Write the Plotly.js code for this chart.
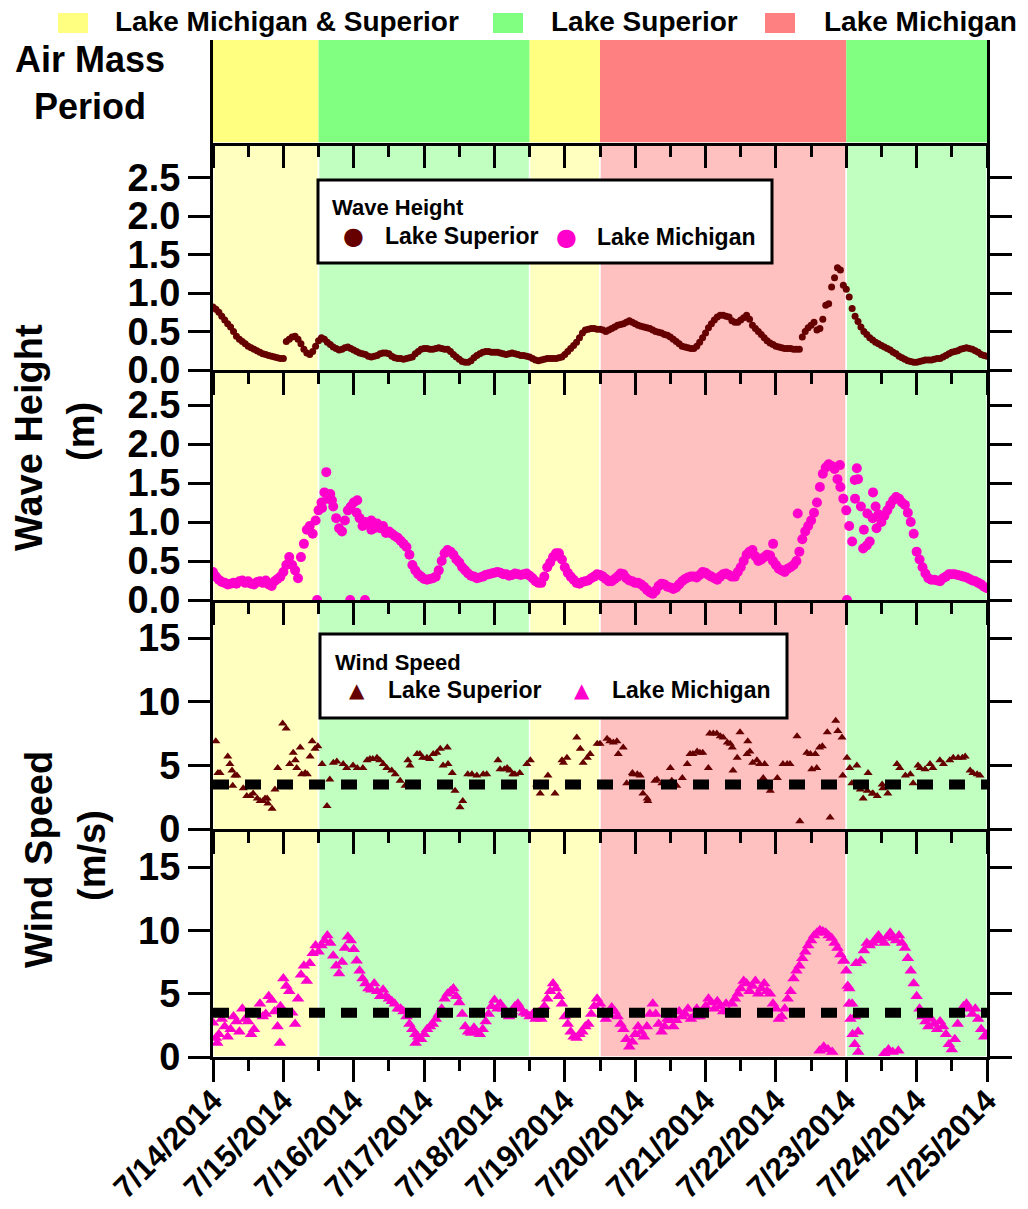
<!DOCTYPE html>
<html><head><meta charset="utf-8">
<script src="https://cdn.plot.ly/plotly-3.0.1.min.js"></script>
<style>html,body{margin:0;padding:0;background:#fff}#chart{width:1028px;height:1209px}</style>
</head><body><div id="chart"></div>
<script>
// ---------------- DATA ----------------
const startDate = '2014-07-14';
const endDate = '2014-07-25';
const stepHours = 2; // even readings at 0,2,4... h ; odd readings at 1,3,5... h

// Air mass periods
const periodStarts = ['2014-07-14 00:00', '2014-07-15 12:00', '2014-07-18 12:00', '2014-07-19 12:00', '2014-07-23 00:00'];
const periodEnds   = ['2014-07-15 12:00', '2014-07-18 12:00', '2014-07-19 12:00', '2014-07-23 00:00', '2014-07-25 00:00'];
const periodTypes  = ['both', 'sup', 'both', 'mich', 'sup'];
const periodLegendTypes  = ['both', 'sup', 'mich'];
const periodLegendLabels = ['Lake Michigan & Superior', 'Lake Superior', 'Lake Michigan'];

// Wave height (m), Lake Superior, at 0,2,4,... h from 7/14 00:00
const supWave = [
 0.82,0.75,0.65,0.56,0.44,0.37,0.31,0.27,0.23,0.20,0.18,0.16,
 0.15,0.40,0.44,0.34,0.22,0.24,0.38,0.40,0.33,0.28,0.27,0.30,
 0.26,0.22,0.20,0.17,0.19,0.22,0.21,0.16,0.15,0.15,0.17,0.24,
 0.28,0.27,0.28,0.28,0.27,0.20,0.14,0.10,0.12,0.19,0.23,0.24,
 0.23,0.22,0.20,0.22,0.20,0.19,0.17,0.13,0.13,0.15,0.15,0.16,
 0.20,0.28,0.36,0.48,0.53,0.54,0.53,0.50,0.54,0.58,0.60,0.64,
 0.60,0.57,0.55,0.52,0.49,0.46,0.43,0.37,0.31,0.29,0.28,0.36,
 0.48,0.60,0.69,0.71,0.69,0.62,0.65,0.71,0.58,0.50,0.42,0.35,
 0.31,0.29,0.28,0.27,0.27,0.50,0.58,0.52,0.66,0.86,1.20,1.30,
 1.05,0.80,0.63,0.50,0.42,0.36,0.32,0.28,0.23,0.18,0.14,0.11,
 0.10,0.12,0.13,0.14,0.15,0.19,0.23,0.25,0.28,0.28,0.25,0.20,
 0.18];
// Wave height (m), Lake Superior, at 1,3,5,... h
const supWaveOdd = [
 0.79,0.70,0.60,0.50,0.40,0.34,0.29,0.25,0.21,0.19,0.17,0.15,
 0.37,0.43,0.40,0.27,0.20,0.31,0.42,0.36,0.30,0.26,0.29,0.28,
 0.24,0.21,0.18,0.18,0.21,0.22,0.18,0.15,0.14,0.16,0.21,0.27,
 0.28,0.27,0.29,0.27,0.24,0.17,0.11,0.10,0.16,0.21,0.24,0.23,
 0.23,0.21,0.21,0.21,0.19,0.18,0.15,0.12,0.14,0.15,0.15,0.17,
 0.24,0.32,0.42,0.52,0.54,0.53,0.52,0.52,0.56,0.59,0.62,0.62,
 0.58,0.56,0.54,0.50,0.48,0.45,0.40,0.34,0.30,0.28,0.31,0.42,
 0.55,0.65,0.71,0.70,0.64,0.62,0.68,0.66,0.54,0.46,0.38,0.33,
 0.30,0.28,0.28,0.27,0.43,0.55,0.62,0.54,0.84,1.08,1.33,1.10,
 0.95,0.70,0.56,0.46,0.39,0.34,0.30,0.26,0.21,0.16,0.12,0.10,
 0.11,0.13,0.13,0.15,0.17,0.21,0.24,0.27,0.29,0.27,0.23,0.19];

// Wave height (m), Lake Michigan, at 0,2,4,... h
const michWave = [
 0.36,0.26,0.22,0.21,0.21,0.25,0.24,0.20,0.24,0.25,0.18,0.27,
 0.36,0.55,0.38,0.55,0.90,0.85,1.15,1.38,1.36,1.05,0.88,1.15,
 1.25,1.05,1.00,0.90,0.98,0.95,0.88,0.82,0.76,0.68,0.45,0.33,
 0.27,0.27,0.30,0.50,0.64,0.58,0.48,0.38,0.31,0.28,0.30,0.33,
 0.35,0.35,0.33,0.32,0.33,0.33,0.31,0.24,0.22,0.42,0.55,0.60,
 0.42,0.30,0.22,0.23,0.25,0.30,0.32,0.27,0.24,0.30,0.33,0.25,
 0.22,0.20,0.13,0.08,0.18,0.20,0.16,0.16,0.24,0.29,0.30,0.32,
 0.35,0.30,0.26,0.33,0.32,0.30,0.42,0.58,0.64,0.50,0.55,0.57,
 0.45,0.38,0.40,0.45,0.62,0.88,1.02,1.25,1.62,1.74,1.68,1.45,
 1.15,0.75,1.55,0.90,0.75,1.20,1.00,1.15,1.28,1.30,1.22,1.00,
 0.62,0.42,0.28,0.26,0.24,0.30,0.33,0.32,0.30,0.27,0.24,0.20,
 0.15];
// Wave height (m), Lake Michigan, at 1,3,5,... h
const michWaveOdd = [
 0.30,0.23,0.20,0.22,0.24,0.22,0.21,0.23,0.22,0.20,0.24,0.30,
 0.45,0.45,0.28,0.72,0.95,1.02,1.25,1.30,1.20,0.92,1.02,1.20,
 1.12,0.95,0.98,0.92,0.92,0.86,0.85,0.80,0.72,0.58,0.38,0.30,
 0.26,0.28,0.38,0.60,0.62,0.52,0.42,0.34,0.30,0.29,0.32,0.34,
 0.36,0.33,0.31,0.34,0.32,0.34,0.28,0.22,0.30,0.48,0.60,0.52,
 0.35,0.26,0.21,0.24,0.28,0.33,0.30,0.24,0.27,0.34,0.28,0.24,
 0.22,0.17,0.10,0.12,0.21,0.17,0.14,0.20,0.27,0.30,0.29,0.36,
 0.32,0.28,0.30,0.34,0.30,0.36,0.50,0.62,0.56,0.52,0.58,0.50,
 0.40,0.36,0.42,0.50,0.78,0.95,1.12,1.45,1.70,1.72,1.55,1.30,
 0.95,1.30,1.20,0.70,1.05,1.10,1.08,1.22,1.32,1.25,1.12,0.85,
 0.52,0.34,0.26,0.25,0.28,0.33,0.33,0.31,0.29,0.25,0.22,0.17];
// scattered Lake Michigan wave readings (days after 7/14 00:00)
const michWaveExtraDays = [1.48,1.95,2.16,9.01,1.61,7.96,8.31,8.91,9.15,9.38,1.55,1.69,2.05,2.25,9.12,9.24,9.30,9.43];
const michWaveExtraVals = [0.00,0.00,0.00,0.00,1.64,0.72,1.11,1.73,1.69,1.38,1.18,1.28,1.28,1.02,1.54,0.66,1.11,0.92];

// Wind speed (m/s), Lake Superior (days after 7/14 00:00)
const supWindDays = [0.04,0.07,0.21,0.24,0.28,0.34,0.43,0.48,0.57,0.63,
 0.71,0.77,0.84,0.88,0.92,0.99,1.04,1.09,1.14,1.17,
 1.24,1.31,1.38,1.41,1.49,1.55,1.62,1.66,1.71,1.85,
 1.99,2.13,2.23,2.33,2.42,2.54,2.66,2.73,2.80,2.90,
 2.98,3.08,3.13,3.23,3.27,3.33,3.40,3.44,3.51,3.55,
 3.62,3.75,3.89,4.05,4.14,4.29,4.26,4.46,4.60,4.65,
 4.76,4.86,4.96,5.03,5.17,5.22,5.26,5.36,5.46,5.60,
 5.69,5.76,5.83,5.88,5.97,6.07,6.11,6.18,6.28,6.38,
 6.50,6.59,6.67,6.74,6.82,6.92,7.04,7.11,7.21,7.31,
 7.38,7.39,7.45,7.49,7.59,7.60,7.67,7.77,7.82,7.92,
 8.02,8.10,8.20,8.30,8.34,8.44,8.51,8.56,8.66,8.73,
 8.77,8.85,8.88,8.94,8.95,9.01,9.08,9.15,9.20,9.24,
 9.31,9.37,9.44,9.51,9.59,9.72,9.84,9.95,10.02,10.12,
 10.23,10.38,10.47,10.59,10.69,10.76,10.86];
const supWindVals = [6.9,4.4,5.7,5.1,3.4,4.2,3.2,2.6,2.8,2.4,
 2.2,2.4,1.6,3.1,4.8,8.3,7.9,5.1,6.0,5.4,
 6.4,4.4,5.7,6.9,6.5,5.1,1.8,3.9,5.2,5.1,
 5.0,4.8,5.5,5.6,5.1,4.6,3.8,3.4,5.0,5.9,
 5.6,5.5,5.9,6.3,5.0,6.4,4.4,3.0,1.7,2.2,
 4.3,4.2,4.3,5.4,4.7,4.3,4.3,5.1,3.5,2.8,
 4.2,2.8,5.4,5.6,7.2,6.3,5.2,5.9,6.7,7.1,
 6.8,5.9,6.4,3.6,4.3,4.2,2.8,2.2,3.8,3.6,
 4.8,3.4,4.0,5.1,5.9,6.0,4.8,7.5,7.3,6.8,
 6.4,4.6,5.6,7.6,5.9,6.9,5.2,5.1,4.0,3.0,
 4.0,5.1,5.1,7.3,0.6,6.0,4.7,5.9,6.5,7.6,
 0.9,8.5,7.7,7.2,4.2,5.6,3.6,5.0,3.1,2.4,
 4.4,2.8,2.6,3.5,2.8,5.1,4.2,3.6,5.0,4.7,
 4.8,5.1,5.4,5.6,5.7,4.6,4.3];
const supWindMoreDays = [0.10,0.27,0.31,0.53,0.67,0.74,0.78,1.19,1.26,1.34,
 1.45,1.76,1.90,2.05,2.19,2.27,2.37,2.47,2.59,2.77,
 2.94,3.04,3.18,3.34,3.68,3.84,4.08,4.22,4.18,4.36,
 4.51,4.98,5.32,5.50,5.64,5.74,5.96,6.03,6.17,6.31,
 6.52,6.78,6.88,6.96,7.06,7.16,7.25,7.35,7.63,7.73,
 7.84,8.16,8.49,8.58,8.62,9.05,9.30,9.38,9.52,9.76,
 9.91,10.05,10.19,10.33,10.52,10.65,10.80,10.90];
const supWindMoreVals = [4.4,4.6,4.2,2.6,2.2,2.4,2.0,4.8,4.3,4.3,
 6.3,5.3,4.8,4.8,5.4,5.5,5.4,4.8,4.3,5.4,
 5.9,5.6,6.0,5.1,4.3,4.3,4.7,4.6,4.8,4.4,
 5.4,5.2,5.6,6.7,6.9,6.9,4.4,4.3,2.4,3.9,
 3.8,5.9,6.1,6.0,7.5,7.5,7.2,6.7,6.1,5.4,
 5.1,5.1,5.9,4.8,6.4,4.8,3.0,2.8,3.2,4.8,
 4.3,4.8,5.1,5.4,5.6,5.6,4.4,4.2];

// Wind speed (m/s), Lake Michigan, at 0,2,4,... h
const michWind = [
 2.7,1.8,2.4,2.2,2.8,3.8,2.8,2.2,4.2,3.4,4.5,2.4,
 6.2,5.2,2.6,6.5,6.0,8.2,8.3,9.2,9.0,7.2,7.5,9.5,
 8.5,6.8,5.8,5.3,5.2,5.3,4.6,4.2,3.8,3.2,2.2,1.6,
 1.8,2.4,3.0,3.8,5.0,5.4,4.3,2.4,1.9,2.0,2.2,3.4,
 4.5,4.2,3.6,3.6,4.2,3.5,3.2,3.0,3.0,4.6,5.8,4.8,
 3.2,2.0,1.5,2.0,2.6,4.0,4.2,3.0,3.9,3.2,2.2,0.8,
 1.8,2.0,2.4,4.2,2.6,2.4,2.9,2.9,3.2,3.8,3.2,3.2,
 4.0,4.3,4.4,3.6,3.6,4.6,5.4,5.8,5.6,5.0,5.8,5.0,
 3.8,3.2,4.6,6.2,7.2,8.3,9.2,9.8,9.9,9.6,9.0,8.1,
 6.8,4.2,2.0,8.4,8.8,9.3,9.2,9.5,9.4,9.6,8.6,6.8,
 4.8,3.2,2.4,2.6,2.8,1.8,0.6,2.6,4.0,3.8,3.8,2.2,
 1.8];
// Wind speed (m/s), Lake Michigan, at 1,3,5,... h
const michWindOdd = [
 1.5,3.0,1.6,3.2,2.0,3.0,1.8,3.4,3.2,4.8,3.6,4.0,
 5.6,3.5,4.6,7.2,7.4,8.8,8.8,9.6,8.0,6.6,8.6,9.2,
 7.6,6.2,5.4,5.8,4.8,4.8,4.4,3.8,3.6,2.6,1.8,1.4,
 2.2,2.6,3.4,4.6,5.2,4.8,3.4,2.0,2.3,1.8,2.8,4.0,
 3.8,3.8,3.2,4.0,3.8,3.4,3.4,3.5,4.0,5.2,5.4,4.2,
 2.6,1.6,1.8,2.4,3.4,4.6,3.6,3.4,3.6,2.6,1.4,1.2,
 2.4,1.6,3.4,3.4,2.0,3.0,2.4,3.6,3.4,3.0,3.8,3.6,
 4.6,3.8,4.0,4.2,4.2,5.0,6.0,5.2,6.0,5.4,5.2,4.2,
 3.0,3.8,5.2,6.8,7.8,8.8,9.6,10.0,9.8,9.4,8.6,7.6,
 5.4,3.2,7.6,9.0,9.0,9.6,9.0,9.8,9.2,9.0,7.8,5.8,
 3.8,2.8,3.0,2.2,2.4,1.0,1.4,3.4,4.2,3.4,3.0,1.6];
const michWindExtraDays = [0.06,0.95,8.62,8.68,8.74,8.80,9.02,9.04,9.06,9.09,9.12,9.14,9.17,9.54,9.60,9.66,9.74,8.97,2.88];
const michWindExtraVals = [1.1,1.1,0.5,0.8,0.6,0.4,5.6,4.2,3.0,1.8,1.0,7.4,0.4,0.3,0.6,0.4,0.5,7.6,1.1];

const windThreshold = 3.5;
const waveTicks = [0, 0.5, 1.0, 1.5, 2.0, 2.5];
const windTicks = [0, 5, 10, 15];

// ---------------- STYLE ----------------
const FONT = 'Liberation Sans, Arial, Helvetica, sans-serif';
const SUP_COLOR = '#660000';
const MICH_COLOR = '#FF00CC';
const bandColors  = {both: '#FFFF80', sup: '#80FF80', mich: '#FF8080'};
const panelColors = {both: '#FFFFC0', sup: '#C0FFC0', mich: '#FFC0C0'};

function dayToDate(d) {
  const ms = Date.UTC(2014, 6, 14) + Math.round(d * 86400000);
  return new Date(ms).toISOString().slice(0, 19).replace('T', ' ');
}
const evenX = arr => arr.map((_, i) => dayToDate(i * stepHours / 24));
const oddX  = arr => arr.map((_, i) => dayToDate((i * stepHours + 1) / 24));

const traces = [
  {x: evenX(supWave).concat(oddX(supWaveOdd)), y: supWave.concat(supWaveOdd),
   xaxis: 'x', yaxis: 'y', type: 'scatter', mode: 'markers',
   marker: {color: SUP_COLOR, size: 7}, name: 'Lake Superior'},
  {x: evenX(michWave).concat(oddX(michWaveOdd), michWaveExtraDays.map(dayToDate)),
   y: michWave.concat(michWaveOdd, michWaveExtraVals),
   xaxis: 'x2', yaxis: 'y2', type: 'scatter', mode: 'markers',
   marker: {color: MICH_COLOR, size: 10}, name: 'Lake Michigan'},
  {x: supWindDays.concat(supWindMoreDays).map(dayToDate), y: supWindVals.concat(supWindMoreVals),
   xaxis: 'x3', yaxis: 'y3', type: 'scatter', mode: 'markers',
   marker: {color: SUP_COLOR, size: 8, symbol: 'triangle-up'}, name: 'Lake Superior'},
  {x: evenX(michWind).concat(oddX(michWindOdd), michWindExtraDays.map(dayToDate)),
   y: michWind.concat(michWindOdd, michWindExtraVals),
   xaxis: 'x4', yaxis: 'y4', type: 'scatter', mode: 'markers',
   marker: {color: MICH_COLOR, size: 11, symbol: 'triangle-up'}, name: 'Lake Michigan'},
  {x: [], y: [], xaxis: 'x5', yaxis: 'y5', type: 'scatter', mode: 'markers', showlegend: false}
];

// plot area: left 213, right 987, top 40, bottom 1057
const H = 1017, W = 774;
const py = p => (1057 - p) / H;
const px = p => (p - 213) / W;
const dom = {
  p4: [0, py(829)], p3: [py(829), py(600)], p2: [py(600), py(370)], p1: [py(370), py(143)], band: [py(143), 1]
};

const xBase = {
  type: 'date', range: [startDate, endDate], tick0: startDate, dtick: 86400000,
  ticks: 'outside', ticklen: 22, tickwidth: 3, tickcolor: '#000',
  showline: true, linewidth: 3, linecolor: '#000', showgrid: false, zeroline: false,
  showticklabels: false, fixedrange: true,
  minor: {dtick: 43200000, ticks: 'outside', ticklen: 11, tickwidth: 3, tickcolor: '#000', showgrid: false}
};
const yBase = {
  showline: true, linewidth: 3, linecolor: '#000', mirror: 'ticks',
  ticks: 'outside', ticklen: 22, tickwidth: 3, tickcolor: '#000',
  showgrid: false, zeroline: false, fixedrange: true,
  tickfont: {family: FONT, size: 38, color: '#000', weight: 'bold'}
};

const shapes = [];
periodStarts.forEach((s, i) => {
  shapes.push({type: 'rect', xref: 'x', yref: 'paper', x0: s, x1: periodEnds[i], y0: dom.band[0], y1: 1,
    fillcolor: bandColors[periodTypes[i]], line: {width: 0}, layer: 'below'});
  shapes.push({type: 'rect', xref: 'x', yref: 'paper', x0: s, x1: periodEnds[i], y0: 0, y1: dom.band[0],
    fillcolor: panelColors[periodTypes[i]], line: {width: 1.5, color: '#FFFFFF'}, layer: 'below'});
});
['y3', 'y4'].forEach((ya, k) => {
  shapes.push({type: 'line', xref: (k === 0 ? 'x3' : 'x4') + ' domain', yref: ya, x0: 0, x1: 1,
    y0: windThreshold, y1: windThreshold, line: {color: '#000', width: 10, dash: '16px,16px'}, layer: 'above'});
});
// in-panel legend boxes
shapes.push({type: 'rect', xref: 'paper', yref: 'paper', x0: px(318), x1: px(772), y0: py(263), y1: py(180),
  fillcolor: '#FFFFFF', line: {color: '#000', width: 3}, layer: 'above'});
shapes.push({type: 'rect', xref: 'paper', yref: 'paper', x0: px(320), x1: px(787), y0: py(718), y1: py(634),
  fillcolor: '#FFFFFF', line: {color: '#000', width: 3}, layer: 'above'});
// top legend swatches
const swatchX = [58, 493, 765];
periodLegendTypes.forEach((t, i) => {
  shapes.push({type: 'rect', xref: 'paper', yref: 'paper', x0: px(swatchX[i]), x1: px(swatchX[i] + 30),
    y0: py(33), y1: py(13), fillcolor: bandColors[t], line: {width: 0}, layer: 'above'});
});

const txt = (text, x, y, size, opts) => Object.assign({
  text: text, xref: 'paper', yref: 'paper', x: x, y: y, showarrow: false,
  xanchor: 'left', yanchor: 'middle', font: {family: FONT, size: size, color: '#000', weight: 'bold'}
}, opts || {});

const legendTextX = [113, 549, 822];
const annotations = [];
periodLegendLabels.forEach((l, i) => annotations.push(txt(l, px(legendTextX[i]), py(22), 28)));
annotations.push(txt('Air Mass<br>Period', px(90), py(83), 36, {xanchor: 'center', align: 'center'}));
annotations.push(txt('Wave Height', px(29), py(438), 38, {xanchor: 'center', textangle: -90}));
annotations.push(txt('(m)', px(81), py(432), 38, {xanchor: 'center', textangle: -90}));
annotations.push(txt('Wind Speed', px(39), py(860), 38, {xanchor: 'center', textangle: -90}));
annotations.push(txt('(m/s)', px(92), py(855), 38, {xanchor: 'center', textangle: -90}));
// wave legend
annotations.push(txt('Wave Height', px(330), py(207), 22));
annotations.push(txt('●', px(353), py(236), 24, {xanchor: 'center', font: {family: 'DejaVu Sans', size: 24, color: SUP_COLOR}}));
annotations.push(txt('Lake Superior', px(383), py(236), 23));
annotations.push(txt('●', px(566), py(237), 24, {xanchor: 'center', font: {family: 'DejaVu Sans', size: 24, color: MICH_COLOR}}));
annotations.push(txt('Lake Michigan', px(595), py(237), 23));
// wind legend
annotations.push(txt('Wind Speed', px(333), py(662), 22));
annotations.push(txt('▲', px(357), py(690), 20, {xanchor: 'center', font: {family: 'DejaVu Sans', size: 20, color: SUP_COLOR}}));
annotations.push(txt('Lake Superior', px(386), py(690), 23));
annotations.push(txt('▲', px(582), py(690), 20, {xanchor: 'center', font: {family: 'DejaVu Sans', size: 20, color: MICH_COLOR}}));
annotations.push(txt('Lake Michigan', px(610), py(690), 23));

const layout = {
  width: 1028, height: 1209,
  margin: {l: 213, r: 41, t: 40, b: 152, pad: 0},
  paper_bgcolor: '#FFFFFF', plot_bgcolor: 'rgba(0,0,0,0)',
  showlegend: false,
  font: {family: FONT, color: '#000'},
  xaxis:  Object.assign({}, xBase, {anchor: 'y', domain: [0, 1]}),
  xaxis2: Object.assign({}, xBase, {anchor: 'y2', domain: [0, 1], matches: 'x'}),
  xaxis3: Object.assign({}, xBase, {anchor: 'y3', domain: [0, 1], matches: 'x'}),
  xaxis4: Object.assign({}, xBase, {anchor: 'y4', domain: [0, 1], matches: 'x', showticklabels: true,
    tickangle: -45, tickformat: '%-m/%-d/%Y', ticklabelstandoff: -12,
    tickfont: {family: FONT, size: 31, color: '#000', weight: 'bold'}}),
  xaxis5: Object.assign({}, xBase, {anchor: 'y5', domain: [0, 1], matches: 'x'}),
  yaxis:  Object.assign({}, yBase, {anchor: 'x', domain: dom.p1, range: [0, 2.95], tickvals: waveTicks, tickformat: '.1f'}),
  yaxis2: Object.assign({}, yBase, {anchor: 'x2', domain: dom.p2, range: [0, 2.95], tickvals: waveTicks, tickformat: '.1f'}),
  yaxis3: Object.assign({}, yBase, {anchor: 'x3', domain: dom.p3, range: [0, 18], tickvals: windTicks}),
  yaxis4: Object.assign({}, yBase, {anchor: 'x4', domain: dom.p4, range: [0, 18], tickvals: windTicks}),
  yaxis5: {anchor: 'x5', domain: dom.band, range: [0, 1], showline: true, linewidth: 3, linecolor: '#000',
    mirror: true, ticks: '', showticklabels: false, showgrid: false, zeroline: false, fixedrange: true},
  shapes: shapes,
  annotations: annotations
};

Plotly.newPlot('chart', traces, layout, {displayModeBar: false, staticPlot: true});
</script>
</body></html>
